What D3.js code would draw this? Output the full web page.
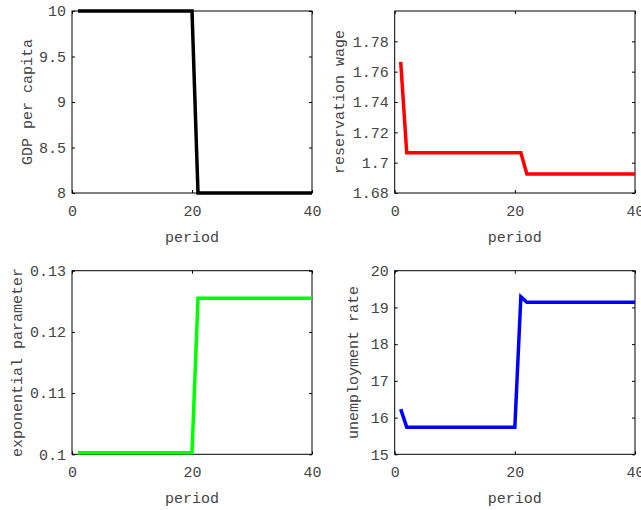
<!DOCTYPE html>
<html>
<head>
<meta charset="utf-8">
<script src="https://cdn.jsdelivr.net/npm/d3@7"></script>
<style>
  body { margin: 0; background: #fff; }
  svg { display: block; }
  svg text { font-family: "Liberation Mono", "DejaVu Sans Mono", "Courier New", Courier, monospace !important; fill: #444; }
</style>
</head>
<body>
<div id="chart"></div>
<script>
// periods 1..40
const periods = d3.range(1, 41);

// series
const gdp = periods.map(p => p <= 20 ? 10 : 8);
const resWage = periods.map(p => p === 1 ? 1.7665 : (p <= 21 ? 1.7066 : 1.6925));
const expParam = periods.map(p => p <= 20 ? 0.10026 : 0.1255);
const unemp = periods.map(p => p === 1 ? 16.23 : p <= 20 ? 15.74 : p === 21 ? 19.29 : 19.14);

const xTicks = [0, 20, 40];
const panels = [
  { label: 'GDP per capita', values: gdp, color: '#000', domain: [8, 10], ticks: [8, 8.5, 9, 9.5, 10], fmt: d => d, col: 0, row: 0, labelX: 27 },
  { label: 'reservation wage', values: resWage, color: '#ff0000', domain: [1.68, 1.8], ticks: [1.68, 1.7, 1.72, 1.74, 1.76, 1.78], fmt: d => +d.toFixed(2), col: 1, row: 0, labelX: 339 },
  { label: 'exponential parameter', values: expParam, color: '#00ff00', domain: [0.1, 0.13], ticks: [0.1, 0.11, 0.12, 0.13], fmt: d => +d.toFixed(2), col: 0, row: 1, labelX: 17 },
  { label: 'unemployment rate', values: unemp, color: '#0000ff', domain: [15, 20], ticks: [15, 16, 17, 18, 19, 20], fmt: d => d, col: 1, row: 1, labelX: 353 }
];

const W = 641, H = 510;
const colX = [[72, 312], [394.7, 635]];
const rowY = [[11, 193], [270.7, 454.3]];

const svg = d3.select('#chart').append('svg')
  .attr('width', W).attr('height', H);

panels.forEach(p => {
  const [x0, x1] = colX[p.col];
  const [y0, y1] = rowY[p.row];
  const x = d3.scaleLinear().domain([0, 40]).range([x0, x1]);
  const y = d3.scaleLinear().domain(p.domain).range([y1, y0]);
  const g = svg.append('g');

  // ticks inside, mirrored on both sides
  const ax = (axis, tr) => g.append('g').attr('transform', tr).call(axis)
    .attr('font-family', null)
    .call(s => s.select('.domain').remove())
    .call(s => s.selectAll('.tick line').attr('stroke', '#000'));

  ax(d3.axisBottom(x).tickValues(xTicks).tickSize(-3).tickPadding(12), `translate(0,${y1})`)
    .selectAll('text').style('font-size', '15px');
  ax(d3.axisTop(x).tickValues(xTicks).tickSize(-3).tickFormat(''), `translate(0,${y0})`);
  ax(d3.axisLeft(y).tickValues(p.ticks).tickSize(-3).tickPadding(6).tickFormat(p.fmt), `translate(${x0},0)`)
    .selectAll('text').style('font-size', '15px');
  ax(d3.axisRight(y).tickValues(p.ticks).tickSize(-3).tickFormat(''), `translate(${x1},0)`);

  g.append('rect')
    .attr('x', x0).attr('y', y0).attr('width', x1 - x0).attr('height', y1 - y0)
    .attr('fill', 'none').attr('stroke', '#000').attr('stroke-width', 1);

  g.append('path')
    .datum(p.values)
    .attr('fill', 'none')
    .attr('stroke', p.color)
    .attr('stroke-width', 3.5)
    .attr('d', d3.line().x((d, i) => x(periods[i])).y(d => y(d)));

  g.append('text')
    .attr('x', (x0 + x1) / 2).attr('y', y1 + 49)
    .attr('text-anchor', 'middle').style('font-size', '15px')
    .text('period');

  g.append('text')
    .attr('transform', `translate(${p.labelX},${(y0 + y1) / 2}) rotate(-90)`)
    .attr('text-anchor', 'middle').attr('dy', '0.35em').style('font-size', '15px')
    .text(p.label);
});
</script>
</body>
</html>
